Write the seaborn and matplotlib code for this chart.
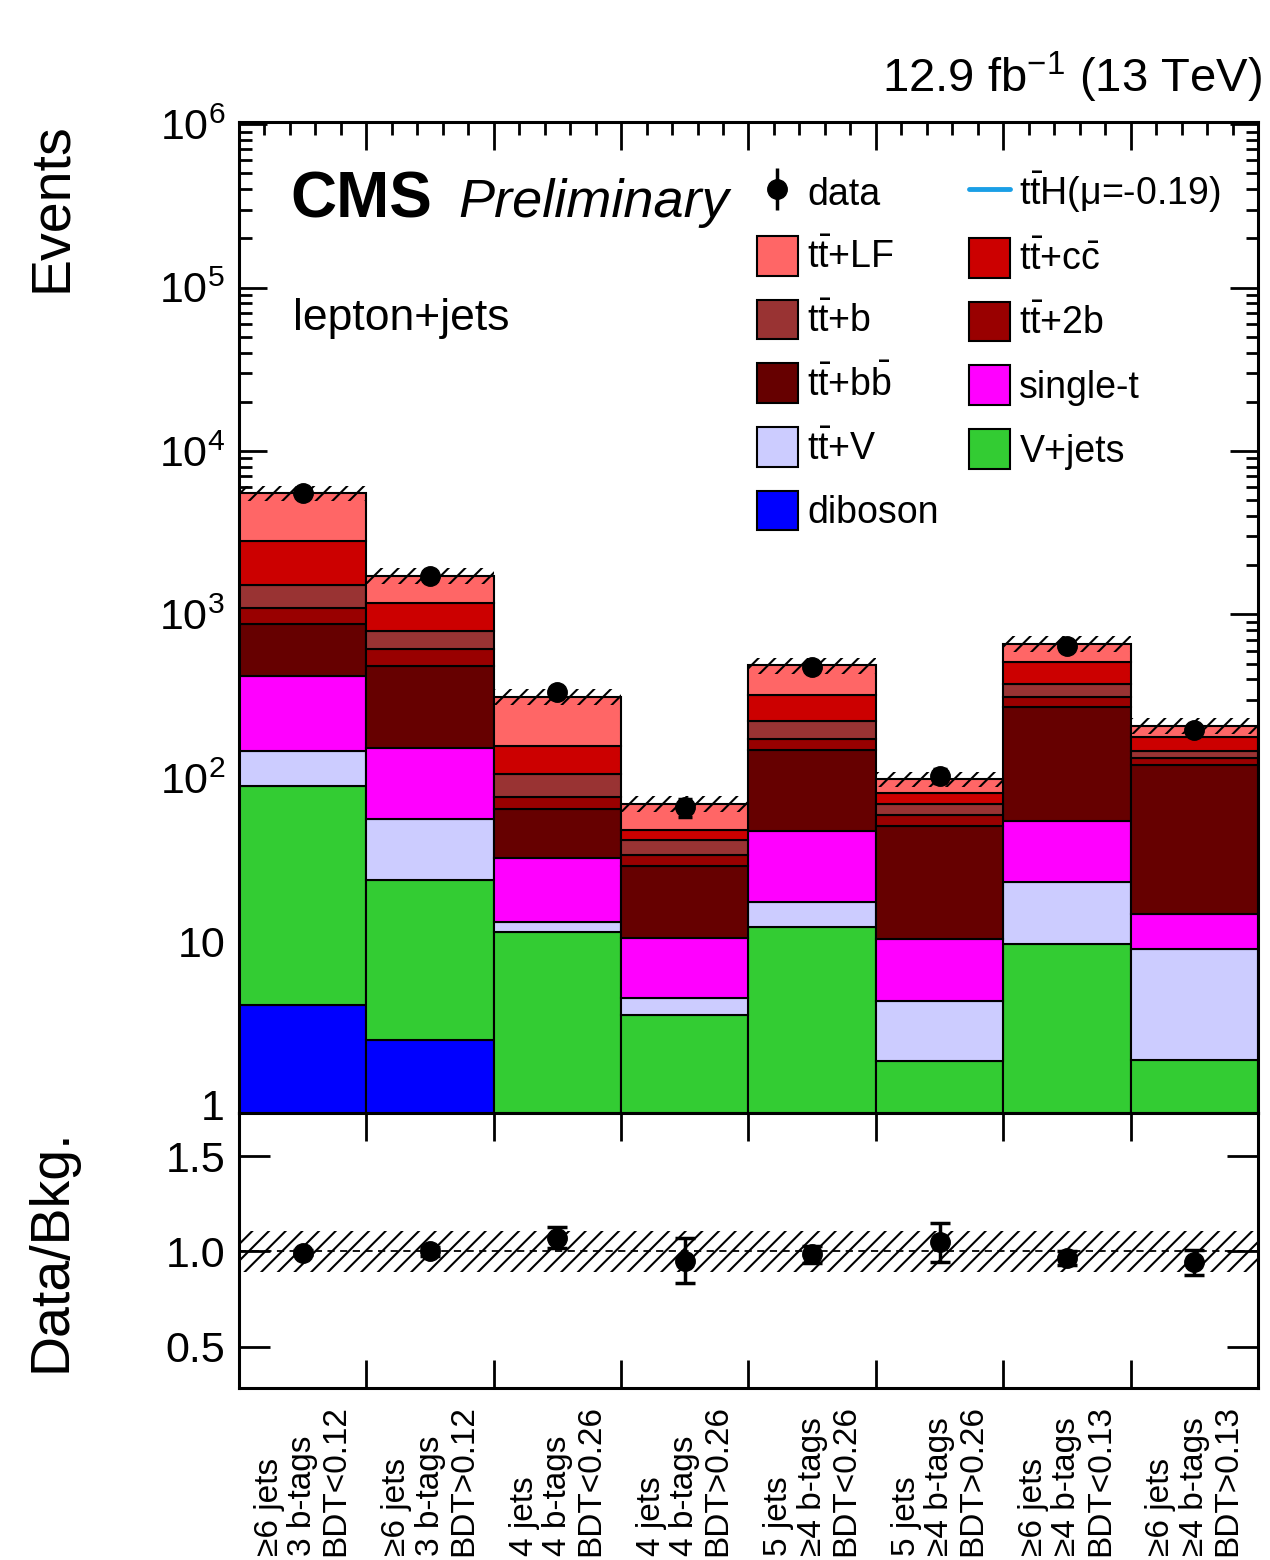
import numpy as np
import pandas as pd
import matplotlib
matplotlib.use("Agg")
import matplotlib.pyplot as plt
import seaborn as sns
from matplotlib.patches import Patch
from matplotlib.lines import Line2D
from matplotlib.legend_handler import HandlerTuple
from matplotlib.ticker import FixedLocator, FixedFormatter, LogLocator, MultipleLocator, NullFormatter

# ---------------- data ----------------
categories = [
    "≥6 jets\n3 b-tags\nBDT<0.12",
    "≥6 jets\n3 b-tags\nBDT>0.12",
    "4 jets\n4 b-tags\nBDT<0.26",
    "4 jets\n4 b-tags\nBDT>0.26",
    "5 jets\n≥4 b-tags\nBDT<0.26",
    "5 jets\n≥4 b-tags\nBDT>0.26",
    "≥6 jets\n≥4 b-tags\nBDT<0.13",
    "≥6 jets\n≥4 b-tags\nBDT>0.13",
]
tt_lf    = [2710, 560, 156, 21.2, 166, 17.5, 147, 29]
tt_cc    = [1305, 377, 51, 6.3, 97, 11.5, 139, 33]
tt_b     = [419, 178, 29.4, 8.0, 50, 10.3, 60, 13]
tt_2b    = [221, 131, 12, 4.8, 26, 8.4, 41, 13]
tt_bb    = [454, 332, 32.2, 18.5, 101, 40.1, 218.5, 105.3]
single_t = [275, 96, 19.2, 6.0, 29.5, 6.07, 31.4, 5.7]
tt_v     = [56.6, 32.2, 1.8, 0.95, 5.2, 2.47, 13.44, 7.12]
v_jets   = [85.3, 21.3, 11.1, 3.35, 12.0, 1.76, 9.46, 1.78]
diboson  = [4.1, 2.5, 0.3, 0.2, 0.3, 0.1, 0.2, 0.1]

data     = [5500, 1730, 336, 66, 480, 103, 637, 196]
data_err = [74, 42, 18, 8.1, 22, 10.1, 25, 14]
bkg_rel_unc = [0.11, 0.11, 0.11, 0.11, 0.11, 0.11, 0.11, 0.11]

process_names = ["ttLF", "ttcc", "ttb", "tt2b", "ttbb", "singlet", "ttV", "Vjets", "diboson"]
process_values = [tt_lf, tt_cc, tt_b, tt_2b, tt_bb, single_t, tt_v, v_jets, diboson]
process_labels = [r"$t\bar{t}$+LF", r"$t\bar{t}$+$c\bar{c}$", r"$t\bar{t}$+b", r"$t\bar{t}$+2b",
                  r"$t\bar{t}$+$b\bar{b}$", "single-t", r"$t\bar{t}$+V", "V+jets", "diboson"]
colors = ["#ff6666", "#cc0000", "#993333", "#990000", "#660000", "#ff00ff", "#ccccff", "#33cc33", "#0000ff"]

# ---------------- style ----------------
sns.set_theme(style="ticks")
plt.rcParams["font.family"] = ["Liberation Sans", "DejaVu Sans"]
plt.rcParams["mathtext.fontset"] = "custom"
plt.rcParams["mathtext.rm"] = "Liberation Sans"
plt.rcParams["mathtext.it"] = "Liberation Sans:italic"
plt.rcParams["mathtext.bf"] = "Liberation Sans:bold"
plt.rcParams["mathtext.default"] = "regular"
plt.rcParams["hatch.linewidth"] = 1.5
plt.rcParams["hatch.color"] = "black"
plt.rcParams["axes.linewidth"] = 2.2
plt.rcParams["axes.edgecolor"] = "black"
plt.rcParams["text.color"] = "black"
plt.rcParams["axes.labelcolor"] = "black"
plt.rcParams["xtick.color"] = "black"
plt.rcParams["ytick.color"] = "black"
plt.rcParams["xtick.labelcolor"] = "black"
plt.rcParams["ytick.labelcolor"] = "black"

nb = len(categories)
edges = np.arange(nb + 1, dtype=float)
centers = edges[:-1] + 0.5

rows = []
for name, vals in zip(process_names, process_values):
    for c, v in zip(centers, vals):
        rows.append({"x": c, "w": v, "process": name})
df = pd.DataFrame(rows)

fig = plt.figure(figsize=(12.7, 15.6), dpi=100)
ax = fig.add_axes([0.18819, 0.28654, 0.80236, 0.63526])
rax = fig.add_axes([0.18819, 0.11026, 0.80236, 0.17628])

ax.set_yscale("log")
sns.histplot(data=df, x="x", weights="w", hue="process", hue_order=process_names,
             palette=dict(zip(process_names, colors)), multiple="stack", bins=edges.tolist(),
             element="bars", fill=True, alpha=1, edgecolor="black", linewidth=1.5,
             legend=False, ax=ax)

total = np.sum(np.array(process_values), axis=0)
unc = np.array(bkg_rel_unc)
ax.fill_between(edges, np.append(total * (1 - unc), total[-1] * (1 - unc[-1])),
                np.append(total * (1 + unc), total[-1] * (1 + unc[-1])),
                step="post", facecolor="none", edgecolor="black", hatch="//", linewidth=0, zorder=5)

data_cont = ax.errorbar(centers, data, yerr=data_err, fmt="o", color="black", ms=14,
                        elinewidth=2.5, capsize=5, capthick=2.5, zorder=10)

ax.set_xlim(0, nb)
ax.set_ylim(0.89, 1.03e6)
ax.set_xlabel("")
ax.set_ylabel("Events", fontsize=40, loc="top")
ax.yaxis.set_label_coords(-0.158, 1.0)

ax.xaxis.set_major_locator(FixedLocator(edges))
ax.xaxis.set_minor_locator(MultipleLocator(0.2))
ax.xaxis.set_major_formatter(NullFormatter())
ax.xaxis.set_minor_formatter(NullFormatter())
ax.yaxis.set_major_locator(FixedLocator([1, 10, 1e2, 1e3, 1e4, 1e5, 1e6]))
ax.yaxis.set_major_formatter(FixedFormatter(["1", "10", "$10^{2}$", "$10^{3}$", "$10^{4}$", "$10^{5}$", "$10^{6}$"]))
ax.yaxis.set_minor_locator(LogLocator(base=10, subs=np.arange(2, 10), numticks=20))
ax.yaxis.set_minor_formatter(NullFormatter())
ax.tick_params(which="both", direction="in", top=True, right=True, width=2, color="black")
ax.tick_params(which="major", length=20, labelsize=31, pad=10)
ax.tick_params(which="minor", length=9)

# texts
ax.text(0.050, 0.904, "CMS", transform=ax.transAxes, fontsize=46, fontweight="bold", va="baseline", ha="left")
ax.text(0.215, 0.904, "Preliminary", transform=ax.transAxes, fontsize=39, fontstyle="italic", va="baseline", ha="left")
ax.text(0.053, 0.790, "lepton+jets", transform=ax.transAxes, fontsize=32, va="baseline", ha="left")
fig.text(0.9937, 0.941, "12.9 fb$^{-1}$ (13 TeV)", fontsize=34, ha="right", va="baseline")

# legend
patches = [Patch(facecolor=c, edgecolor="black", linewidth=1.5) for c in colors]
tth = Line2D([], [], color="#1a9fe6", lw=3.5)
data_handle = (Line2D([], [], marker="|", ms=30, mew=2.5, color="black", ls="none"),
               Line2D([], [], marker="o", ms=14, color="black", ls="none"))
col1_h = [data_handle, patches[0], patches[2], patches[4], patches[6], patches[8]]
col1_l = ["data", process_labels[0], process_labels[2], process_labels[4], process_labels[6], process_labels[8]]
col2_h = [tth, patches[1], patches[3], patches[5], patches[7]]
col2_l = [r"$t\bar{t}$H($\mu$=-0.19)", process_labels[1], process_labels[3], process_labels[5], process_labels[7]]
leg = ax.legend(col1_h + col2_h, col1_l + col2_l, ncol=2, loc="upper left",
                bbox_to_anchor=(0.508, 0.952), frameon=False, fontsize=27,
                handlelength=1.1, handleheight=1.25, handletextpad=0.25,
                columnspacing=0.8, labelspacing=0.62, borderpad=0, borderaxespad=0,
                handler_map={tuple: HandlerTuple(ndivide=1)})

# ---------------- ratio ----------------
ratio = np.array(data) / total
ratio_err = np.array(data_err) / total
rax.fill_between(edges, np.append(1 - unc, 1 - unc[-1]), np.append(1 + unc, 1 + unc[-1]),
                 step="post", facecolor="none", edgecolor="black", hatch="//", linewidth=0, zorder=2)
rax.axhline(1.0, color="black", lw=1.3, ls=(0, (4, 3)), zorder=3)
rax.errorbar(centers, ratio, yerr=ratio_err, fmt="o", color="black", ms=14,
             elinewidth=2.5, capsize=7, capthick=2.5, zorder=10)
rax.set_xlim(0, nb)
rax.set_ylim(0.283, 1.7275)
rax.set_ylabel("Data/Bkg.", fontsize=40)
rax.yaxis.set_label_coords(-0.158, 0.5)
rax.xaxis.set_major_locator(FixedLocator(edges))
rax.xaxis.set_major_formatter(NullFormatter())
rax.set_xticks(centers, labels=categories, minor=True)
for t in rax.get_xticklabels(minor=True):
    t.set_rotation(90)
    t.set_fontsize(24)
    t.set_linespacing(1.1)
    t.set_multialignment("left")
rax.yaxis.set_major_locator(FixedLocator([0.5, 1.0, 1.5]))
rax.yaxis.set_major_formatter(FixedFormatter(["0.5", "1.0", "1.5"]))
rax.yaxis.set_minor_locator(FixedLocator([]))
rax.tick_params(which="major", direction="in", top=True, right=True, width=2, length=20,
                labelsize=31, pad=10, color="black")
rax.tick_params(axis="x", which="minor", length=0, pad=12)
rax.tick_params(axis="y", which="major", length=22)

fig.savefig("out.png", dpi=100)
